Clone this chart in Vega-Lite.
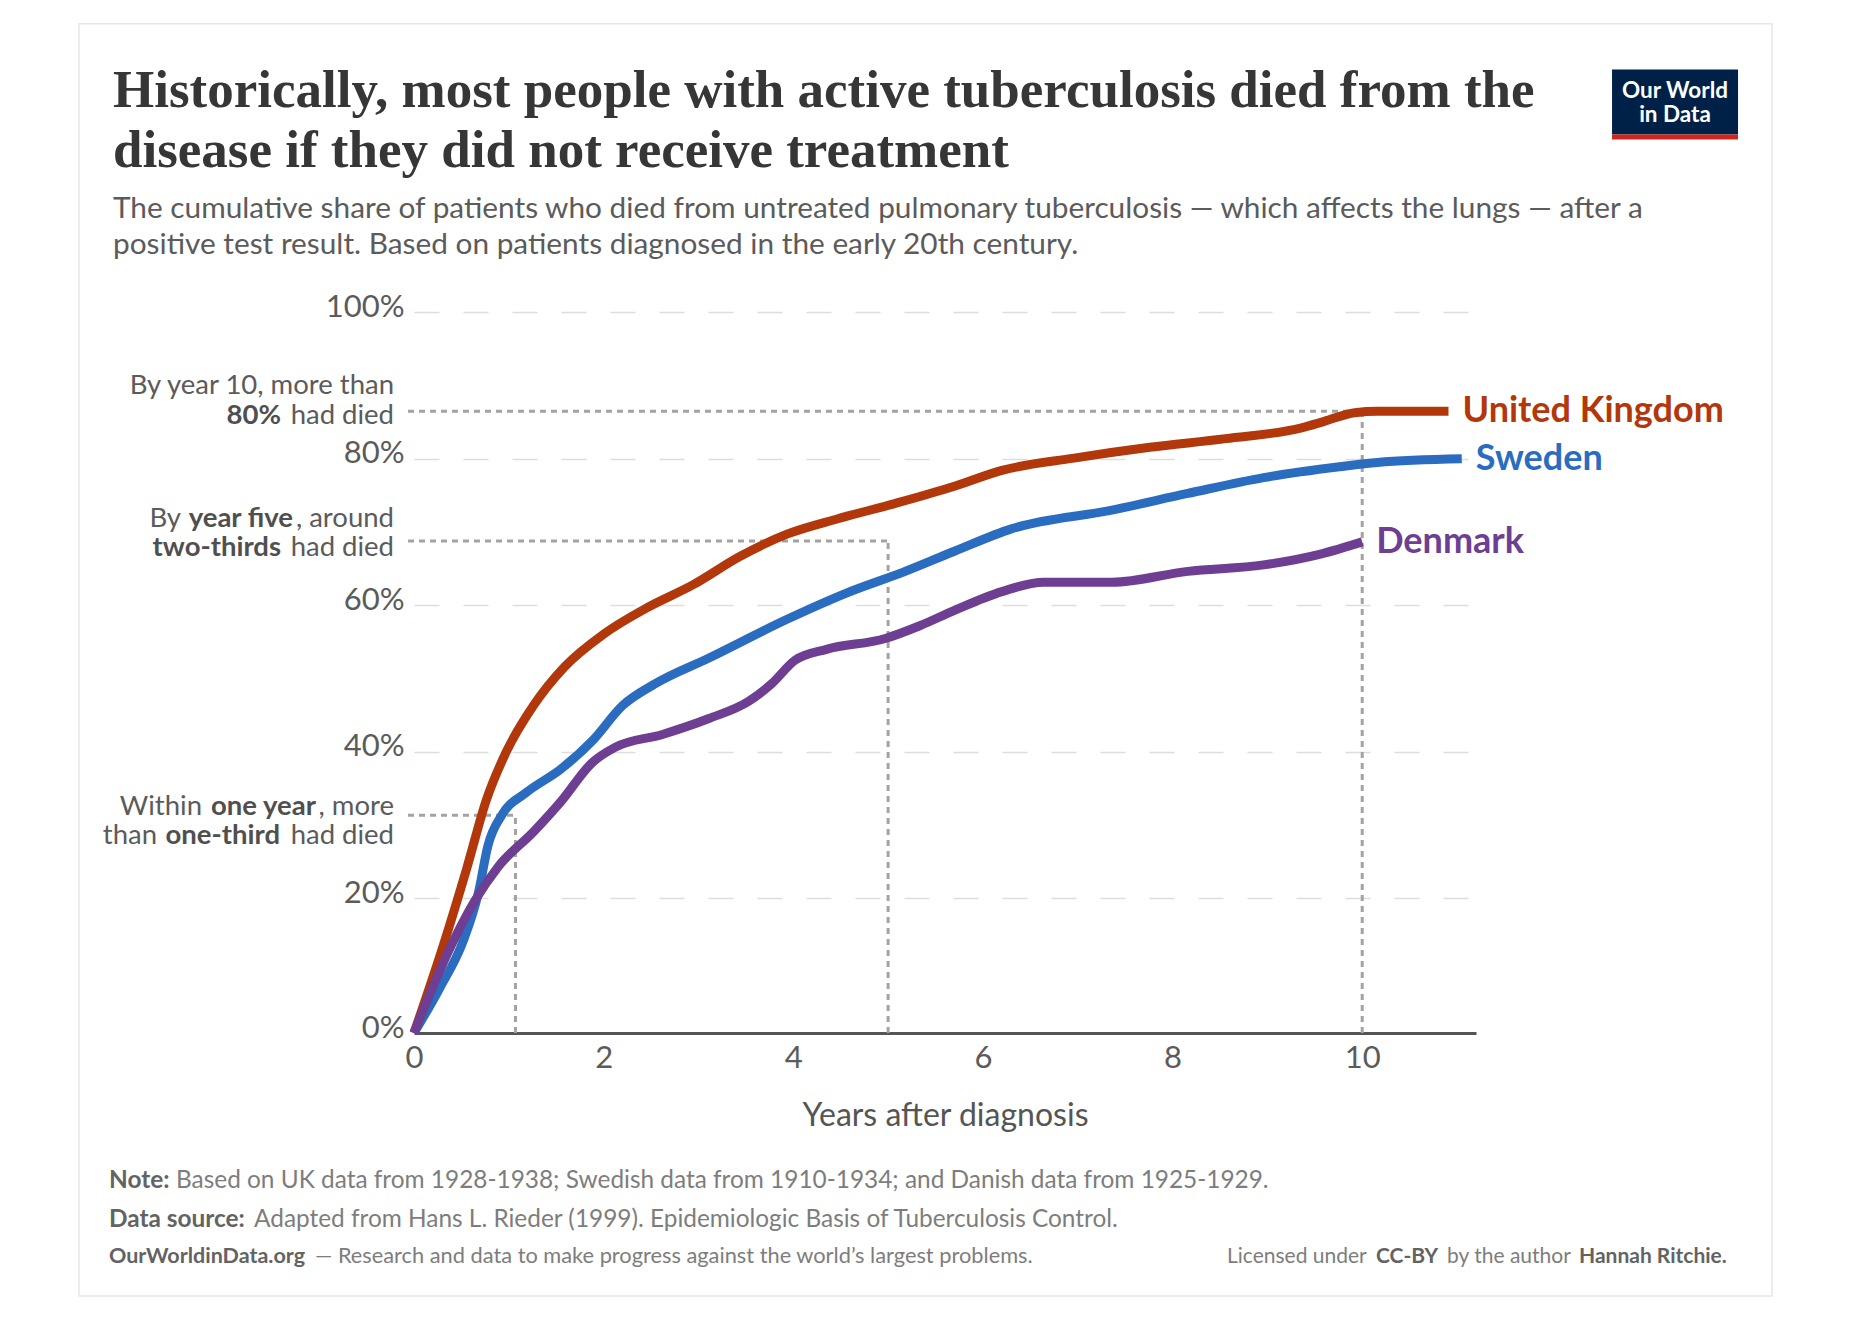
{
  "$schema": "https://vega.github.io/schema/vega-lite/v6.json",
  "width": 1062,
  "height": 721,
  "autosize": "none",
  "padding": {"left": 414, "top": 312, "right": 394, "bottom": 293},
  "background": "#ffffff",
  "config": {
    "view": {"stroke": null},
    "font": "Lato",
    "axisX": {"grid": false, "ticks": false, "domainColor": "#555555", "domainWidth": 3, "labelFontSize": 31, "labelColor": "#5b5b5b", "labelPadding": 10, "labelFlush": false, "titleFontSize": 32, "titleFontWeight": "normal", "titleColor": "#555555", "titlePadding": 27},
    "axisY": {"domain": false, "ticks": false, "labelFontSize": 31, "labelColor": "#5b5b5b", "labelPadding": 10, "labelOffset": -5, "gridDash": [25, 24], "gridColor": "#dddddd", "gridWidth": 1.5}
  },
  "title": {
    "text": ["Historically, most people with active tuberculosis died from the", "disease if they did not receive treatment"],
    "subtitle": ["The cumulative share of patients who died from untreated pulmonary tuberculosis — which affects the lungs — after a", "positive test result. Based on patients diagnosed in the early 20th century."],
    "anchor": "start",
    "frame": "group",
    "dx": -301,
    "offset": -238.5,
    "font": "Liberation Serif",
    "fontSize": 53,
    "fontWeight": "bold",
    "color": "#363636",
    "lineHeight": 60,
    "subtitleFont": "Lato",
    "subtitleFontSize": 29.8,
    "subtitleColor": "#5b5b5b",
    "subtitleLineHeight": 36,
    "subtitlePadding": 16
  },
  "data": {"values": [{}]},
  "datasets": {
    "curves": [
      {"country": "United Kingdom", "year": 0, "share": 0},
      {"country": "United Kingdom", "year": 0.31, "share": 13.06},
      {"country": "United Kingdom", "year": 0.56, "share": 24.25},
      {"country": "United Kingdom", "year": 0.76, "share": 33.3},
      {"country": "United Kingdom", "year": 0.97, "share": 39.9},
      {"country": "United Kingdom", "year": 1.26, "share": 46.3},
      {"country": "United Kingdom", "year": 1.59, "share": 51.61},
      {"country": "United Kingdom", "year": 2.0, "share": 56.04},
      {"country": "United Kingdom", "year": 2.45, "share": 59.59},
      {"country": "United Kingdom", "year": 2.95, "share": 62.83},
      {"country": "United Kingdom", "year": 3.44, "share": 66.67},
      {"country": "United Kingdom", "year": 3.94, "share": 69.72},
      {"country": "United Kingdom", "year": 4.47, "share": 71.79},
      {"country": "United Kingdom", "year": 5.07, "share": 73.86},
      {"country": "United Kingdom", "year": 5.7, "share": 76.22},
      {"country": "United Kingdom", "year": 6.2, "share": 78.39},
      {"country": "United Kingdom", "year": 6.96, "share": 80.06},
      {"country": "United Kingdom", "year": 7.76, "share": 81.54},
      {"country": "United Kingdom", "year": 8.56, "share": 82.72},
      {"country": "United Kingdom", "year": 9.36, "share": 84.19},
      {"country": "United Kingdom", "year": 9.6, "share": 85.08},
      {"country": "United Kingdom", "year": 9.92, "share": 86.26},
      {"country": "United Kingdom", "year": 10.16, "share": 86.45},
      {"country": "United Kingdom", "year": 10.91, "share": 86.45},
      {"country": "Sweden", "year": 0, "share": 0},
      {"country": "Sweden", "year": 0.27, "share": 6.64},
      {"country": "Sweden", "year": 0.52, "share": 13.7},
      {"country": "Sweden", "year": 0.68, "share": 20.8},
      {"country": "Sweden", "year": 0.78, "share": 27.2},
      {"country": "Sweden", "year": 0.93, "share": 31.43},
      {"country": "Sweden", "year": 1.18, "share": 34.39},
      {"country": "Sweden", "year": 1.55, "share": 37.64},
      {"country": "Sweden", "year": 1.88, "share": 41.48},
      {"country": "Sweden", "year": 2.2, "share": 46.3},
      {"country": "Sweden", "year": 2.54, "share": 49.25},
      {"country": "Sweden", "year": 3.11, "share": 52.79},
      {"country": "Sweden", "year": 3.94, "share": 58.11},
      {"country": "Sweden", "year": 4.56, "share": 61.65},
      {"country": "Sweden", "year": 5.18, "share": 64.61},
      {"country": "Sweden", "year": 5.7, "share": 67.36},
      {"country": "Sweden", "year": 6.3, "share": 70.41},
      {"country": "Sweden", "year": 7.36, "share": 72.97},
      {"country": "Sweden", "year": 8.16, "share": 75.24},
      {"country": "Sweden", "year": 8.96, "share": 77.4},
      {"country": "Sweden", "year": 9.76, "share": 78.88},
      {"country": "Sweden", "year": 10.16, "share": 79.47},
      {"country": "Sweden", "year": 11.05, "share": 79.96},
      {"country": "Denmark", "year": 0, "share": 0},
      {"country": "Denmark", "year": 0.31, "share": 10.49},
      {"country": "Denmark", "year": 0.64, "share": 19.59},
      {"country": "Denmark", "year": 0.89, "share": 24.35},
      {"country": "Denmark", "year": 1.26, "share": 29.07},
      {"country": "Denmark", "year": 1.55, "share": 33.21},
      {"country": "Denmark", "year": 1.88, "share": 38.52},
      {"country": "Denmark", "year": 2.12, "share": 40.59},
      {"country": "Denmark", "year": 2.62, "share": 42.36},
      {"country": "Denmark", "year": 3.11, "share": 44.53},
      {"country": "Denmark", "year": 3.53, "share": 46.89},
      {"country": "Denmark", "year": 3.77, "share": 49.25},
      {"country": "Denmark", "year": 4.02, "share": 52.5},
      {"country": "Denmark", "year": 4.35, "share": 53.97},
      {"country": "Denmark", "year": 4.97, "share": 55.45},
      {"country": "Denmark", "year": 5.34, "share": 57.22},
      {"country": "Denmark", "year": 5.7, "share": 59.29},
      {"country": "Denmark", "year": 6.2, "share": 61.85},
      {"country": "Denmark", "year": 6.64, "share": 63.13},
      {"country": "Denmark", "year": 7.36, "share": 63.13},
      {"country": "Denmark", "year": 8.16, "share": 64.61},
      {"country": "Denmark", "year": 8.96, "share": 65.49},
      {"country": "Denmark", "year": 9.56, "share": 66.97},
      {"country": "Denmark", "year": 10.0, "share": 68.64}
    ],
    "refs": [
      {"start": 0, "year": 10, "base": 0, "share": 86.45},
      {"start": 0, "year": 5, "base": 0, "share": 68.74},
      {"start": 0, "year": 1.07, "base": 0, "share": 31.34}
    ]
  },
  "layer": [
    {
      "data": {"name": "curves"},
      "mark": {"type": "line", "interpolate": "monotone", "strokeWidth": 9, "strokeCap": "butt", "opacity": 0},
      "encoding": {
        "x": {
          "field": "year",
          "type": "quantitative",
          "scale": {"domain": [0, 11.2], "nice": false},
          "axis": {"values": [0, 2, 4, 6, 8, 10], "format": "d", "title": "Years after diagnosis"}
        },
        "y": {
          "field": "share",
          "type": "quantitative",
          "scale": {"domain": [0, 20, 100], "range": [721, 586.3, 0], "nice": false},
          "axis": {"values": [0, 20, 40, 60, 80, 100], "labelExpr": "datum.value + '%'", "title": null}
        },
        "detail": {"field": "country", "type": "nominal"}
      }
    },
    {
      "mark": {"type": "point", "shape": "M-1,-0.7514H1V0.7514H-1Z", "size": 2866249, "filled": false, "opacity": 1, "color": "#e6e6e6", "strokeWidth": 1.5},
      "encoding": {"x": {"datum": 5.394, "type": "quantitative"}, "y": {"datum": 52.53, "type": "quantitative"}}
    },
    {
      "data": {"name": "refs"},
      "mark": {"type": "rule", "strokeDash": [6, 5], "strokeWidth": 3, "color": "#a3a3a3", "xOffset": -6},
      "encoding": {
        "x": {"field": "start", "type": "quantitative"},
        "x2": {"field": "year"},
        "y": {"field": "share", "type": "quantitative"}
      }
    },
    {
      "data": {"name": "refs"},
      "mark": {"type": "rule", "strokeDash": [6, 5], "strokeWidth": 3, "color": "#a3a3a3"},
      "encoding": {
        "x": {"field": "year", "type": "quantitative"},
        "y": {"field": "base", "type": "quantitative"},
        "y2": {"field": "share"}
      }
    },
    {
      "data": {"name": "curves"},
      "mark": {"type": "line", "interpolate": "monotone", "strokeWidth": 9, "strokeCap": "butt"},
      "encoding": {
        "x": {"field": "year", "type": "quantitative"},
        "y": {"field": "share", "type": "quantitative"},
        "color": {
          "field": "country",
          "type": "nominal",
          "scale": {"domain": ["United Kingdom", "Sweden", "Denmark"], "range": ["#b2380c", "#2a6cc0", "#6d3e91"]},
          "legend": null
        }
      }
    },
    {
      "data": {"name": "curves"},
      "transform": [
        {"joinaggregate": [{"op": "max", "field": "year", "as": "lastYear"}], "groupby": ["country"]},
        {"filter": "datum.year == datum.lastYear"}
      ],
      "mark": {"type": "text", "align": "left", "baseline": "middle", "dx": 14, "fontSize": 36, "fontWeight": "bold"},
      "encoding": {
        "x": {"field": "year", "type": "quantitative"},
        "y": {"field": "share", "type": "quantitative"},
        "text": {"field": "country", "type": "nominal"},
        "color": {"field": "country", "type": "nominal", "legend": null}
      }
    },
    {
      "mark": {"type": "text", "align": "right", "baseline": "alphabetic", "fontSize": 27.5, "color": "#5b5b5b", "dx": -20, "dy": -17, "text": "By year 10, more than"},
      "encoding": {"x": {"datum": 0, "type": "quantitative"}, "y": {"datum": 86.45, "type": "quantitative"}}
    },
    {
      "mark": {"type": "text", "align": "right", "baseline": "alphabetic", "fontSize": 27.5, "color": "#5b5b5b", "dx": -20, "dy": 13, "text": "had died"},
      "encoding": {"x": {"datum": 0, "type": "quantitative"}, "y": {"datum": 86.45, "type": "quantitative"}}
    },
    {
      "mark": {"type": "text", "align": "right", "baseline": "alphabetic", "fontSize": 27.5, "fontWeight": "bold", "color": "#4f4f4f", "dx": -133, "dy": 13, "text": "80%"},
      "encoding": {"x": {"datum": 0, "type": "quantitative"}, "y": {"datum": 86.45, "type": "quantitative"}}
    },
    {
      "mark": {"type": "text", "align": "right", "baseline": "alphabetic", "fontSize": 27.5, "color": "#5b5b5b", "dx": -20, "dy": -14, "text": ", around"},
      "encoding": {"x": {"datum": 0, "type": "quantitative"}, "y": {"datum": 68.74, "type": "quantitative"}}
    },
    {
      "mark": {"type": "text", "align": "right", "baseline": "alphabetic", "fontSize": 27.5, "fontWeight": "bold", "color": "#4f4f4f", "dx": -121, "dy": -14, "text": "year five"},
      "encoding": {"x": {"datum": 0, "type": "quantitative"}, "y": {"datum": 68.74, "type": "quantitative"}}
    },
    {
      "mark": {"type": "text", "align": "right", "baseline": "alphabetic", "fontSize": 27.5, "color": "#5b5b5b", "dx": -233, "dy": -14, "text": "By"},
      "encoding": {"x": {"datum": 0, "type": "quantitative"}, "y": {"datum": 68.74, "type": "quantitative"}}
    },
    {
      "mark": {"type": "text", "align": "right", "baseline": "alphabetic", "fontSize": 27.5, "color": "#5b5b5b", "dx": -20, "dy": 15, "text": "had died"},
      "encoding": {"x": {"datum": 0, "type": "quantitative"}, "y": {"datum": 68.74, "type": "quantitative"}}
    },
    {
      "mark": {"type": "text", "align": "right", "baseline": "alphabetic", "fontSize": 27.5, "fontWeight": "bold", "color": "#4f4f4f", "dx": -133, "dy": 15, "text": "two-thirds"},
      "encoding": {"x": {"datum": 0, "type": "quantitative"}, "y": {"datum": 68.74, "type": "quantitative"}}
    },
    {
      "mark": {"type": "text", "align": "right", "baseline": "alphabetic", "fontSize": 27.5, "color": "#5b5b5b", "dx": -20, "dy": 0, "text": ", more"},
      "encoding": {"x": {"datum": 0, "type": "quantitative"}, "y": {"datum": 31.34, "type": "quantitative"}}
    },
    {
      "mark": {"type": "text", "align": "right", "baseline": "alphabetic", "fontSize": 27.5, "fontWeight": "bold", "color": "#4f4f4f", "dx": -98, "dy": 0, "text": "one year"},
      "encoding": {"x": {"datum": 0, "type": "quantitative"}, "y": {"datum": 31.34, "type": "quantitative"}}
    },
    {
      "mark": {"type": "text", "align": "right", "baseline": "alphabetic", "fontSize": 27.5, "color": "#5b5b5b", "dx": -212, "dy": 0, "text": "Within"},
      "encoding": {"x": {"datum": 0, "type": "quantitative"}, "y": {"datum": 31.34, "type": "quantitative"}}
    },
    {
      "mark": {"type": "text", "align": "right", "baseline": "alphabetic", "fontSize": 27.5, "color": "#5b5b5b", "dx": -20, "dy": 29, "text": "had died"},
      "encoding": {"x": {"datum": 0, "type": "quantitative"}, "y": {"datum": 31.34, "type": "quantitative"}}
    },
    {
      "mark": {"type": "text", "align": "right", "baseline": "alphabetic", "fontSize": 27.5, "fontWeight": "bold", "color": "#4f4f4f", "dx": -134, "dy": 29, "text": "one-third"},
      "encoding": {"x": {"datum": 0, "type": "quantitative"}, "y": {"datum": 31.34, "type": "quantitative"}}
    },
    {
      "mark": {"type": "text", "align": "right", "baseline": "alphabetic", "fontSize": 27.5, "color": "#5b5b5b", "dx": -257, "dy": 29, "text": "than"},
      "encoding": {"x": {"datum": 0, "type": "quantitative"}, "y": {"datum": 31.34, "type": "quantitative"}}
    },
    {
      "mark": {"type": "point", "shape": "M-1,-0.516H1V0.516H-1Z", "size": 15876, "filled": true, "opacity": 1, "color": "#002147"},
      "encoding": {"x": {"datum": 13.299, "type": "quantitative"}, "y": {"datum": 128.64, "type": "quantitative"}}
    },
    {
      "mark": {"type": "point", "shape": "M-1,0.516H1V0.595H-1Z", "size": 15876, "filled": true, "opacity": 1, "color": "#ce261e"},
      "encoding": {"x": {"datum": 13.299, "type": "quantitative"}, "y": {"datum": 128.64, "type": "quantitative"}}
    },
    {
      "mark": {"type": "text", "align": "center", "baseline": "alphabetic", "fontSize": 22.5, "fontWeight": "bold", "color": "#ffffff", "dy": -4.5, "text": "Our World"},
      "encoding": {"x": {"datum": 13.299, "type": "quantitative"}, "y": {"datum": 128.64, "type": "quantitative"}}
    },
    {
      "mark": {"type": "text", "align": "center", "baseline": "alphabetic", "fontSize": 22.5, "fontWeight": "bold", "color": "#ffffff", "dy": 19.5, "text": "in Data"},
      "encoding": {"x": {"datum": 13.299, "type": "quantitative"}, "y": {"datum": 128.64, "type": "quantitative"}}
    },
    {
      "mark": {"type": "text", "align": "left", "baseline": "alphabetic", "fontSize": 24.4, "fontWeight": "bold", "color": "#636363", "dx": -305, "dy": 155, "text": "Note:"},
      "encoding": {"x": {"datum": 0, "type": "quantitative"}, "y": {"datum": 0, "type": "quantitative"}}
    },
    {
      "mark": {"type": "text", "align": "left", "baseline": "alphabetic", "fontSize": 24.4, "color": "#7d7d7d", "dx": -238, "dy": 155, "text": "Based on UK data from 1928-1938; Swedish data from 1910-1934; and Danish data from 1925-1929."},
      "encoding": {"x": {"datum": 0, "type": "quantitative"}, "y": {"datum": 0, "type": "quantitative"}}
    },
    {
      "mark": {"type": "text", "align": "left", "baseline": "alphabetic", "fontSize": 24.4, "fontWeight": "bold", "color": "#636363", "dx": -305, "dy": 194, "text": "Data source:"},
      "encoding": {"x": {"datum": 0, "type": "quantitative"}, "y": {"datum": 0, "type": "quantitative"}}
    },
    {
      "mark": {"type": "text", "align": "left", "baseline": "alphabetic", "fontSize": 24.4, "color": "#7d7d7d", "dx": -160, "dy": 194, "text": "Adapted from Hans L. Rieder (1999). Epidemiologic Basis of Tuberculosis Control."},
      "encoding": {"x": {"datum": 0, "type": "quantitative"}, "y": {"datum": 0, "type": "quantitative"}}
    },
    {
      "mark": {"type": "text", "align": "left", "baseline": "alphabetic", "fontSize": 21.5, "fontWeight": "bold", "color": "#636363", "dx": -305, "dy": 230, "text": "OurWorldinData.org"},
      "encoding": {"x": {"datum": 0, "type": "quantitative"}, "y": {"datum": 0, "type": "quantitative"}}
    },
    {
      "mark": {"type": "text", "align": "left", "baseline": "alphabetic", "fontSize": 21.8, "color": "#7d7d7d", "dx": -99, "dy": 230, "text": "— Research and data to make progress against the world’s largest problems."},
      "encoding": {"x": {"datum": 0, "type": "quantitative"}, "y": {"datum": 0, "type": "quantitative"}}
    },
    {
      "mark": {"type": "text", "align": "left", "baseline": "alphabetic", "fontSize": 21, "color": "#7d7d7d", "dx": 813, "dy": 230, "text": "Licensed under"},
      "encoding": {"x": {"datum": 0, "type": "quantitative"}, "y": {"datum": 0, "type": "quantitative"}}
    },
    {
      "mark": {"type": "text", "align": "left", "baseline": "alphabetic", "fontSize": 21, "fontWeight": "bold", "color": "#636363", "dx": 962, "dy": 230, "text": "CC-BY"},
      "encoding": {"x": {"datum": 0, "type": "quantitative"}, "y": {"datum": 0, "type": "quantitative"}}
    },
    {
      "mark": {"type": "text", "align": "left", "baseline": "alphabetic", "fontSize": 21, "color": "#7d7d7d", "dx": 1033, "dy": 230, "text": "by the author"},
      "encoding": {"x": {"datum": 0, "type": "quantitative"}, "y": {"datum": 0, "type": "quantitative"}}
    },
    {
      "mark": {"type": "text", "align": "left", "baseline": "alphabetic", "fontSize": 21, "fontWeight": "bold", "color": "#636363", "dx": 1165, "dy": 230, "text": "Hannah Ritchie."},
      "encoding": {"x": {"datum": 0, "type": "quantitative"}, "y": {"datum": 0, "type": "quantitative"}}
    }
  ]
}
